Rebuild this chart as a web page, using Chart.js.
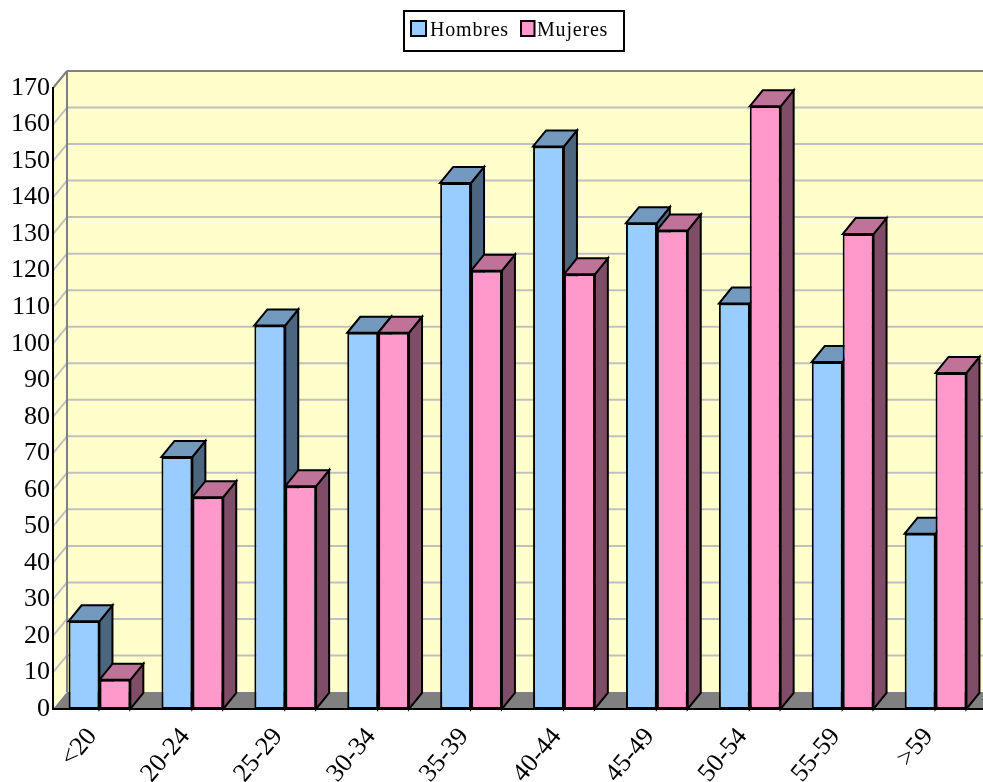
<!DOCTYPE html>
<html lang="es">
<head>
    <meta charset="UTF-8">
    <title>Hombres y Mujeres por edad</title>
    <script src="https://cdn.jsdelivr.net/npm/chart.js"></script>
    <style>
        html, body { margin: 0; padding: 0; background: #fff; overflow: hidden; }
        canvas { display: block; }
    </style>
</head>
<body>
    <canvas id="chart" width="983" height="782"></canvas>

    <script>
        const categories = ['<20', '20-24', '25-29', '30-34', '35-39', '40-44', '45-49', '50-54', '55-59', '>59'];
        const hombres = [24, 69, 105, 103, 144, 154, 133, 111, 95, 48];
        const mujeres = [8, 58, 61, 103, 120, 119, 131, 165, 130, 92];
        const yMax = 170;
        const yStep = 10;

        const serif = '"Liberation Serif", "Times New Roman", serif';
        const depthX = 13, depthY = 16;      // bar depth
        const wallX = 14, wallY = 17;        // wall depth

        function poly(ctx, pts, fill, stroke, lw) {
            ctx.beginPath();
            pts.forEach((p, i) => i ? ctx.lineTo(p[0], p[1]) : ctx.moveTo(p[0], p[1]));
            ctx.closePath();
            if (fill) { ctx.fillStyle = fill; ctx.fill(); }
            if (stroke) { ctx.strokeStyle = stroke; ctx.lineWidth = lw; ctx.stroke(); }
        }

        function line(ctx, x1, y1, x2, y2, color, lw) {
            ctx.beginPath();
            ctx.moveTo(x1, y1);
            ctx.lineTo(x2, y2);
            ctx.strokeStyle = color;
            ctx.lineWidth = lw;
            ctx.stroke();
        }

        // back wall, side wall, floor and gridlines
        const walls = {
            id: 'walls',
            beforeDraw(chart) {
                const { ctx, chartArea: a, scales: { y } } = chart;
                ctx.save();
                poly(ctx, [[a.left, a.top], [a.left + wallX, a.top - wallY], [a.right + wallX, a.top - wallY],
                    [a.right + wallX, a.bottom - wallY], [a.left + wallX, a.bottom - wallY], [a.left, a.bottom]], '#FFFFCC');
                y.ticks.forEach(t => {
                    if (t.value === 0 || t.value === yMax) return;
                    const py = y.getPixelForValue(t.value);
                    line(ctx, a.left, py, a.left + wallX, py - wallY, '#C0C0C0', 2);
                    line(ctx, a.left + wallX, py - wallY, a.right + wallX, py - wallY, '#C0C0C0', 2);
                });
                poly(ctx, [[a.left, a.bottom], [a.left + wallX, a.bottom - wallY], [a.right + wallX, a.bottom - wallY], [a.right, a.bottom]], '#808080');
                line(ctx, a.left, a.top, a.left + wallX, a.top - wallY, '#808080', 2);
                line(ctx, a.left + wallX, a.top - wallY, a.right + wallX, a.top - wallY, '#808080', 2);
                line(ctx, a.left + wallX, a.top - wallY, a.left + wallX, a.bottom - wallY, '#808080', 2);
                ctx.restore();
            }
        };

        // top and side faces of the bars, the fronts come from Chart.js
        const barDepth = {
            id: 'barDepth',
            beforeDatasetsDraw(chart) {
                const { ctx } = chart;
                ctx.save();
                categories.forEach((c, i) => {
                    chart.data.datasets.forEach((ds, d) => {
                        const bar = chart.getDatasetMeta(d).data[i];
                        const l = bar.x - bar.width / 2, r = bar.x + bar.width / 2;
                        poly(ctx, [[r, bar.y], [r + depthX, bar.y - depthY], [r + depthX, bar.base - depthY], [r, bar.base]], ds.sideColor, '#000', 2);
                        poly(ctx, [[l, bar.y], [l + depthX, bar.y - depthY], [r + depthX, bar.y - depthY], [r, bar.y]], ds.topColor, '#000', 2);
                    });
                });
                ctx.restore();
            }
        };

        // boxed legend above the plot
        const boxLegend = {
            id: 'boxLegend',
            afterDraw(chart) {
                const { ctx } = chart;
                ctx.save();
                ctx.strokeStyle = '#000';
                ctx.lineWidth = 2;
                ctx.strokeRect(404, 11, 220, 40);
                ctx.font = '20px ' + serif;
                ctx.letterSpacing = '0.8px';
                ctx.textBaseline = 'alphabetic';
                ctx.textAlign = 'left';
                const boxX = [411, 521], boxW = [15, 13.5], textX = [430, 537];
                chart.data.datasets.forEach((ds, d) => {
                    ctx.fillStyle = ds.backgroundColor;
                    ctx.fillRect(boxX[d], 21, boxW[d], 15);
                    ctx.strokeRect(boxX[d], 21, boxW[d], 15);
                    ctx.fillStyle = '#000';
                    ctx.fillText(ds.label, textX[d], 36);
                });
                ctx.restore();
            }
        };

        new Chart(document.getElementById('chart').getContext('2d'), {
            type: 'bar',
            data: {
                labels: categories,
                datasets: [
                    { label: 'Hombres', data: hombres, backgroundColor: '#99CCFF', topColor: '#7399BF', sideColor: '#4D6680' },
                    { label: 'Mujeres', data: mujeres, backgroundColor: '#FF99CC', topColor: '#BF7399', sideColor: '#804D66' }
                ].map(ds => Object.assign(ds, {
                    borderColor: '#000',
                    borderWidth: 2,
                    borderSkipped: false,
                    categoryPercentage: 0.665,
                    barPercentage: 1
                }))
            },
            options: {
                responsive: false,
                animation: false,
                layout: { padding: { top: 88, right: 1, left: 0, bottom: 0 } },
                plugins: { legend: { display: false }, tooltip: { enabled: false } },
                scales: {
                    x: {
                        grid: { display: false },
                        border: { color: '#000', width: 2 },
                        ticks: {
                            color: '#000',
                            font: { family: serif, size: 26 },
                            minRotation: 50,
                            maxRotation: 50,
                            autoSkip: false,
                            labelOffset: -7,
                            padding: 5
                        },
                        afterFit(scale) { scale.height = 73; }
                    },
                    y: {
                        min: 0,
                        max: yMax,
                        grid: { display: false, drawTicks: false },
                        border: { color: '#000', width: 2 },
                        ticks: {
                            color: '#000',
                            stepSize: yStep,
                            font: { family: serif, size: 26 },
                            padding: 3
                        },
                        afterFit(scale) { scale.width = 53; }
                    }
                }
            },
            plugins: [walls, barDepth, boxLegend]
        });
    </script>
</body>
</html>
